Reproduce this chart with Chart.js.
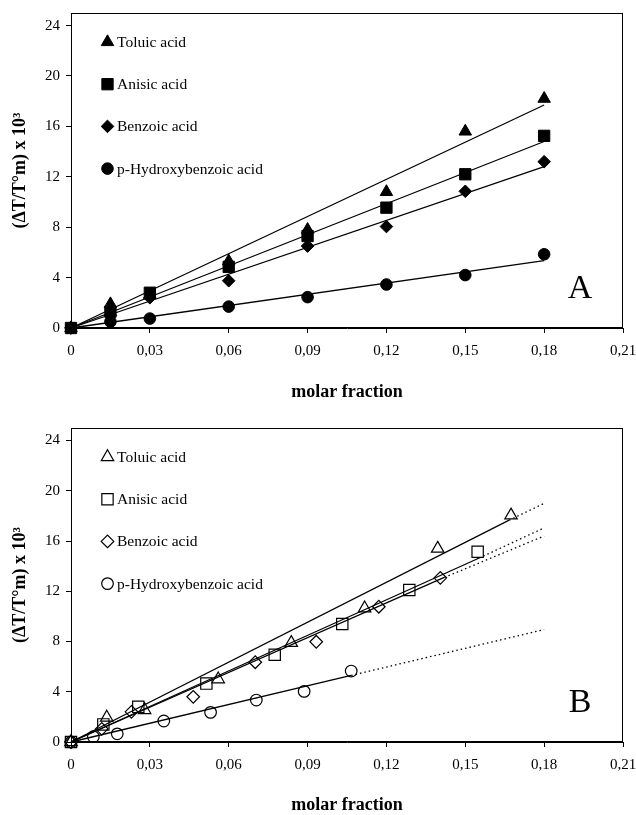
<!DOCTYPE html>
<html><head><meta charset="utf-8">
<script src="https://cdn.jsdelivr.net/npm/chart.js@4.4.0/dist/chart.umd.min.js"></script>
<style>
html,body{margin:0;padding:0;background:#fff;}
#wrap{position:relative;width:636px;height:815px;overflow:hidden;}
#cA{position:absolute;left:0;top:0;}
#cB{position:absolute;left:0;top:410px;}
</style></head><body>
<div id="wrap">
<canvas id="cA" width="636" height="410"></canvas>
<canvas id="cB" width="636" height="405"></canvas>
</div>
<script>
// ---- shared labels / ticks ----
const seriesNames = ['Toluic acid', 'Anisic acid', 'Benzoic acid', 'p-Hydroxybenzoic acid'];
const xTickValues = [0, 0.03, 0.06, 0.09, 0.12, 0.15, 0.18, 0.21];
const xTickLabels = ['0', '0,03', '0,06', '0,09', '0,12', '0,15', '0,18', '0,21'];
const yTickValues = [0, 4, 8, 12, 16, 20, 24];
const xTitle = 'molar fraction';
const yTitle = '(\u0394T/T\u00B0m) x 10\u00B3';

// ---- Panel A: measured points ----
const xA = [0, 0.015, 0.03, 0.06, 0.09, 0.12, 0.15, 0.18];
const toluicA  = [0, 1.9, 2.6, 5.3, 7.8, 10.8, 15.6, 18.2];
const anisicA  = [0, 1.3, 2.8, 4.85, 7.3, 9.55, 12.2, 15.25];
const benzoicA = [0, 1.0, 2.4, 3.75, 6.5, 8.05, 10.85, 13.2];
const hydroxyA = [0, 0.5, 0.75, 1.7, 2.45, 3.45, 4.2, 5.85];
// Panel A: fitted lines (end points)
const fitXA = [0, 0.18];
const fitToluicA  = [0, 17.7];
const fitAnisicA  = [0, 14.8];
const fitBenzoicA = [0, 12.8];
const fitHydroxyA = [0, 5.35];

// ---- Panel B: measured points ----
const toluicBx  = [0, 0.0136, 0.028, 0.056, 0.0838, 0.1117, 0.1395, 0.1674];
const toluicBy  = [0, 1.95, 2.55, 5.0, 7.9, 10.65, 15.4, 18.05];
const anisicBx  = [0, 0.0123, 0.0256, 0.0515, 0.0775, 0.1032, 0.1287, 0.1547];
const anisicBy  = [0, 1.4, 2.8, 4.65, 6.95, 9.4, 12.1, 15.15];
const benzoicBx = [0, 0.0117, 0.023, 0.0465, 0.0701, 0.0933, 0.1171, 0.1405];
const benzoicBy = [0, 1.05, 2.4, 3.6, 6.35, 7.98, 10.77, 13.07];
const hydroxyBx = [0, 0.0085, 0.0176, 0.0353, 0.0531, 0.0705, 0.0887, 0.1066];
const hydroxyBy = [0, 0.42, 0.65, 1.67, 2.36, 3.34, 4.03, 5.65];
// Panel B: fitted lines (solid to 2nd point, dotted extrapolation to 3rd)
const fitToluicBx  = [0, 0.1667, 0.18];
const fitToluicBy  = [0, 17.66, 19.0];
const fitAnisicBx  = [0, 0.1553, 0.18];
const fitAnisicBy  = [0, 14.65, 17.05];
const fitBenzoicBx = [0, 0.142, 0.18];
const fitBenzoicBy = [0, 13.1, 16.4];
const fitHydroxyBx = [0, 0.1066, 0.18];
const fitHydroxyBy = [0, 5.3, 8.95];

// ---- styling ----
const SERIF = '"Liberation Serif", "Times New Roman", serif';
const pointStyles = ['triangle', 'rect', 'rectRot', 'circle'];
const pointRadii = [7.2, 8, 6.3, 5.8];

function pts(xs, ys) { return xs.map((x, i) => ({x: x, y: ys[i]})); }

function markerSet(i, xs, ys, filled) {
  return {
    label: seriesNames[i], data: pts(xs, ys), showLine: false,
    pointStyle: pointStyles[i], pointRadius: pointRadii[i], pointHoverRadius: pointRadii[i],
    backgroundColor: filled ? '#000' : 'rgba(0,0,0,0)', borderColor: '#000',
    pointBorderWidth: filled ? 1 : 1.2, clip: false
  };
}
function fitSet(xs, ys) {
  return {
    data: pts(xs, ys), showLine: true, pointRadius: 0, borderColor: '#000', borderWidth: 1.3,
    fill: false, tension: 0, clip: false,
    segment: { borderDash: ctx => ctx.p1DataIndex === 2 ? [1.5, 3] : undefined }
  };
}

const panelPlugin = {
  id: 'panel',
  afterDraw(chart, args, opts) {
    const ctx = chart.ctx, a = chart.chartArea;
    ctx.save();
    // frame
    ctx.strokeStyle = '#000'; ctx.lineWidth = 1;
    ctx.strokeRect(Math.round(a.left) + 0.5, Math.round(a.top) + 0.5,
      Math.round(a.right - a.left) - 1, Math.round(a.bottom - a.top) - 1);
    // in-plot legend
    ctx.font = '15.5px ' + SERIF;
    ctx.textBaseline = 'middle'; ctx.textAlign = 'left';
    seriesNames.forEach((name, i) => {
      const y = a.top + 29 + i * 42.2;
      ctx.fillStyle = opts.filled ? '#000' : 'rgba(0,0,0,0)';
      ctx.strokeStyle = '#000'; ctx.lineWidth = opts.filled ? 1 : 1.2;
      Chart.helpers.drawPoint(ctx, {pointStyle: pointStyles[i], radius: pointRadii[i],
        borderWidth: opts.filled ? 1 : 1.2, rotation: 0}, 107.5, y);
      ctx.fillStyle = '#000';
      ctx.fillText(name, 117, y + 1);
    });
    // panel letter
    ctx.font = '34px ' + SERIF;
    ctx.textAlign = 'center'; ctx.textBaseline = 'middle';
    ctx.fillStyle = '#000';
    ctx.fillText(opts.letter, 580, a.bottom - 39);
    ctx.restore();
  }
};

function makeChart(id, datasets, padTop, xHeight, titlePad, filled, letter) {
  return new Chart(document.getElementById(id), {
    type: 'scatter',
    data: { datasets: datasets },
    options: {
      responsive: false, animation: false, events: [],
      layout: { padding: { top: padTop, right: 13, left: 0, bottom: 0 } },
      plugins: { legend: { display: false }, tooltip: { enabled: false },
        panel: { filled: filled, letter: letter } },
      scales: {
        x: {
          type: 'linear', min: 0, max: 0.21,
          afterBuildTicks: s => { s.ticks = xTickValues.map(v => ({value: v})); },
          afterFit: s => { s.height = xHeight; s.paddingLeft = 0; s.paddingRight = 0; },
          ticks: { callback: (v, i) => xTickLabels[i], color: '#000', padding: 9,
            font: { family: SERIF, size: 15 }, maxRotation: 0 },
          grid: { drawOnChartArea: false, drawTicks: true, tickLength: 5, color: '#000' },
          border: { display: true, color: '#000', width: 1 },
          title: { display: true, text: xTitle, color: '#000',
            font: { family: SERIF, size: 18, weight: 'bold', lineHeight: 1 },
            padding: { top: 0, bottom: titlePad } }
        },
        y: {
          type: 'linear', min: 0, max: 25,
          afterBuildTicks: s => { s.ticks = yTickValues.map(v => ({value: v})); },
          afterFit: s => { s.width = 71; s.paddingTop = 0; s.paddingBottom = 0; },
          ticks: { callback: v => String(v), color: '#000', padding: 6,
            font: { family: SERIF, size: 15 } },
          grid: { drawOnChartArea: false, drawTicks: true, tickLength: 5, color: '#000' },
          border: { display: true, color: '#000', width: 1 },
          title: { display: true, text: yTitle, color: '#000',
            font: { family: SERIF, size: 18, weight: 'bold', lineHeight: 1 },
            padding: { top: 11, bottom: 0 } }
        }
      }
    },
    plugins: [panelPlugin]
  });
}

makeChart('cA', [
  markerSet(0, xA, toluicA, true),
  markerSet(1, xA, anisicA, true),
  markerSet(2, xA, benzoicA, true),
  markerSet(3, xA, hydroxyA, true),
  fitSet(fitXA, fitToluicA),
  fitSet(fitXA, fitAnisicA),
  fitSet(fitXA, fitBenzoicA),
  fitSet(fitXA, fitHydroxyA)
], 13, 82, 9, true, 'A');

makeChart('cB', [
  markerSet(0, toluicBx, toluicBy, false),
  markerSet(1, anisicBx, anisicBy, false),
  markerSet(2, benzoicBx, benzoicBy, false),
  markerSet(3, hydroxyBx, hydroxyBy, false),
  fitSet(fitToluicBx, fitToluicBy),
  fitSet(fitAnisicBx, fitAnisicBy),
  fitSet(fitBenzoicBx, fitBenzoicBy),
  fitSet(fitHydroxyBx, fitHydroxyBy)
], 18, 73, 1, false, 'B');
</script>
</body></html>
